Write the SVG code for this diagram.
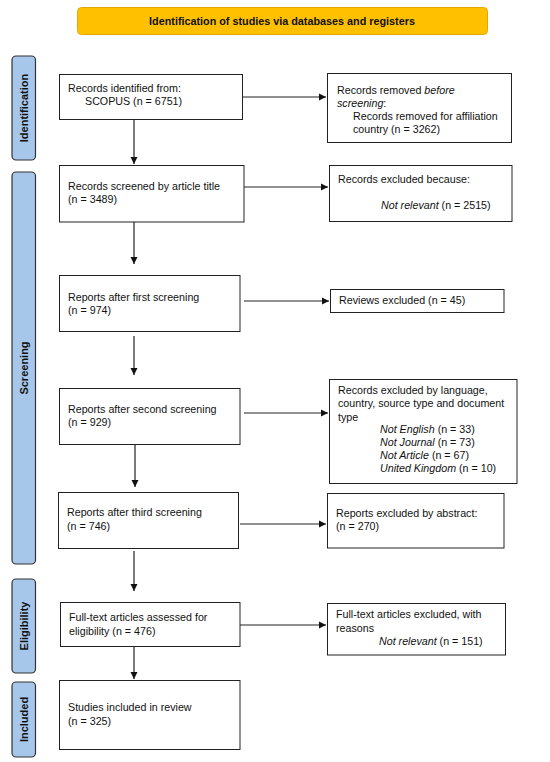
<svg xmlns="http://www.w3.org/2000/svg" width="550" height="762" viewBox="0 0 550 762">
<style>
text{font-family:"Liberation Sans",Arial,sans-serif;font-size:10.7px;fill:#111}
.box{fill:#fff;stroke:#222;stroke-width:1}
.side{fill:#a7c7ea;stroke:#333;stroke-width:1.2}
.sl{font-weight:bold;font-size:11px;text-anchor:middle}
.ln{stroke:#222;stroke-width:1.2;fill:none;marker-end:url(#ah)}
</style>
<defs>
<marker id="ah" markerWidth="8" markerHeight="8" refX="7" refY="4" orient="auto" markerUnits="userSpaceOnUse">
<path d="M0,0.5 L7,4 L0,7.5 Z" fill="#111"/>
</marker>
</defs>
<rect width="550" height="762" fill="#fff"/>
<g id="header">
<rect x="77.5" y="7.5" width="410" height="27" rx="4" fill="#ffc000" stroke="#e0a800" stroke-width="1"/>
<text x="282" y="24.5" text-anchor="middle" style="font-weight:bold;font-size:10.8px">Identification of studies via databases and registers</text>
</g>
<g id="side-identification">
<rect class="side" x="12" y="56" width="23.5" height="104" rx="4"/>
<text class="sl" transform="translate(27.8,108) rotate(-90)">Identification</text>
</g>
<g id="side-screening">
<rect class="side" x="12" y="172" width="23.5" height="392" rx="4"/>
<text class="sl" transform="translate(27.8,368) rotate(-90)">Screening</text>
</g>
<g id="side-eligibility">
<rect class="side" x="12" y="579" width="23.5" height="94" rx="4"/>
<text class="sl" transform="translate(27.8,626) rotate(-90)">Eligibility</text>
</g>
<g id="side-included">
<rect class="side" x="12" y="682" width="23.5" height="75" rx="4"/>
<text class="sl" transform="translate(27.8,719.5) rotate(-90)">Included</text>
</g>
<g id="connectors">
<path class="ln" d="M242,97 H326"/>
<path class="ln" d="M134,119 V164"/>
<path class="ln" d="M244,187 H328"/>
<path class="ln" d="M134,222 V264"/>
<path class="ln" d="M244,301 H329"/>
<path class="ln" d="M134,336 V375"/>
<path class="ln" d="M244,413 H328"/>
<path class="ln" d="M135,444 V487"/>
<path class="ln" d="M240,524 H326"/>
<path class="ln" d="M134,551 V591"/>
<path class="ln" d="M240,625 H326"/>
<path class="ln" d="M134,646 V679"/>
</g>
<g id="n1">
<rect class="box" x="59.5" y="74.5" width="183" height="45"/>
<text x="68" y="92">Records identified from:</text>
<text x="85" y="105">SCOPUS (n = 6751)</text>
</g>
<g id="r1">
<rect class="box" x="327.5" y="73.5" width="184" height="69"/>
<text x="337" y="94">Records removed <tspan font-style="italic">before</tspan></text>
<text x="337" y="107"><tspan font-style="italic">screening</tspan>:</text>
<text x="353" y="119.5">Records removed for affiliation</text>
<text x="353" y="132.5">country (n = 3262)</text>
</g>
<g id="n2">
<rect class="box" x="59.5" y="165.5" width="184.5" height="56.5"/>
<text x="68" y="190">Records screened by article title</text>
<text x="68" y="203">(n = 3489)</text>
</g>
<g id="r2">
<rect class="box" x="329.5" y="165.5" width="182.5" height="56"/>
<text x="338" y="183">Records excluded because:</text>
<text x="381" y="209"><tspan font-style="italic">Not relevant</tspan> (n = 2515)</text>
</g>
<g id="n3">
<rect class="box" x="59.5" y="275.5" width="180.5" height="56"/>
<text x="68" y="301">Reports after first screening</text>
<text x="68" y="314">(n = 974)</text>
</g>
<g id="r3">
<rect class="box" x="330.5" y="289.5" width="173.5" height="23"/>
<text x="339" y="304">Reviews excluded (n = 45)</text>
</g>
<g id="n4">
<rect class="box" x="59.5" y="388.5" width="180.5" height="56"/>
<text x="68" y="413">Reports after second screening</text>
<text x="68" y="426">(n = 929)</text>
</g>
<g id="r4">
<rect class="box" x="329.5" y="379.5" width="187.5" height="104"/>
<text x="338" y="394">Records excluded by language,</text>
<text x="338" y="407">country, source type and document</text>
<text x="338" y="420.5">type</text>
<text x="380" y="433"><tspan font-style="italic">Not English</tspan> (n = 33)</text>
<text x="380" y="446"><tspan font-style="italic">Not Journal</tspan> (n = 73)</text>
<text x="380" y="459"><tspan font-style="italic">Not Article</tspan> (n = 67)</text>
<text x="380" y="472"><tspan font-style="italic">United Kingdom</tspan> (n = 10)</text>
</g>
<g id="n5">
<rect class="box" x="58.5" y="492.5" width="180" height="56"/>
<text x="67" y="516">Reports after third screening</text>
<text x="67" y="529.5">(n = 746)</text>
</g>
<g id="r5">
<rect class="box" x="327.5" y="493.5" width="176.5" height="54.5"/>
<text x="336" y="517">Reports excluded by abstract:</text>
<text x="336" y="530">(n = 270)</text>
</g>
<g id="n6">
<rect class="box" x="60.5" y="602.5" width="179.5" height="44"/>
<text x="69" y="621">Full-text articles assessed for</text>
<text x="69" y="635">eligibility (n = 476)</text>
</g>
<g id="r6">
<rect class="box" x="327.5" y="603.5" width="178" height="51.5"/>
<text x="336" y="618">Full-text articles excluded, with</text>
<text x="336" y="632">reasons</text>
<text x="379" y="645"><tspan font-style="italic">Not relevant</tspan> (n = 151)</text>
</g>
<g id="n7">
<rect class="box" x="59.5" y="680.5" width="180.5" height="69"/>
<text x="68" y="711">Studies included in review</text>
<text x="68" y="725">(n = 325)</text>
</g>
</svg>
